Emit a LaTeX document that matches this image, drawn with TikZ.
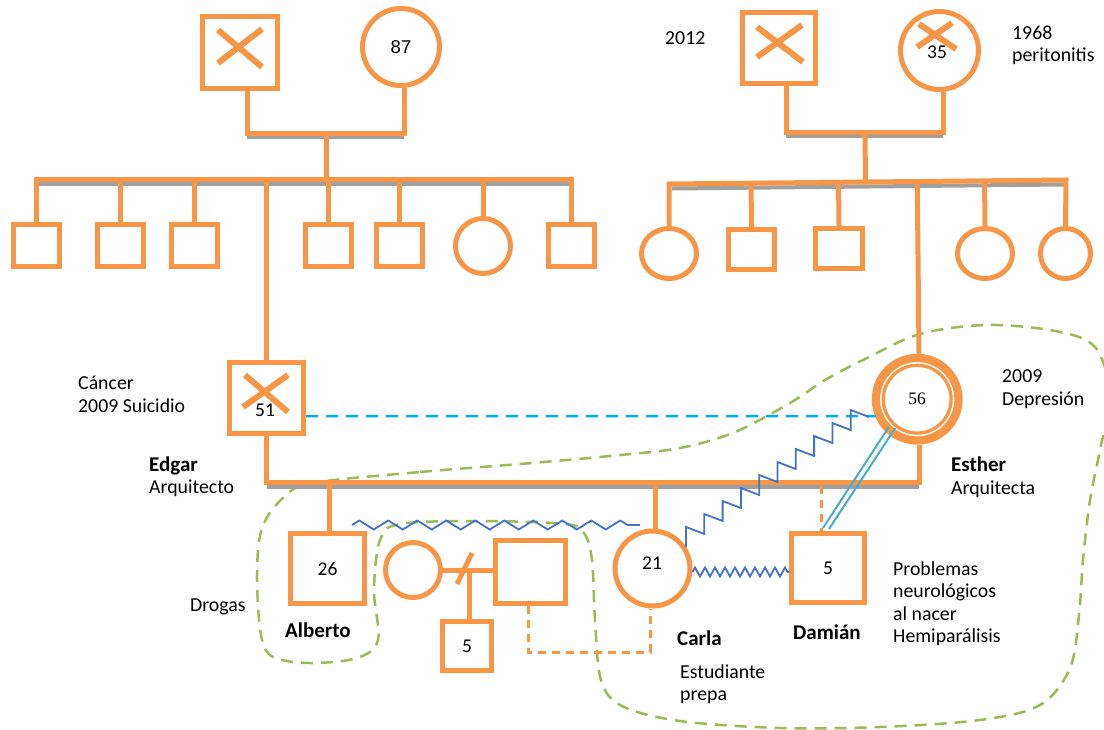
\documentclass[tikz,border=0pt]{standalone}
\usepackage{fontspec}
\setmainfont{Carlito}
\newfontfamily\arialf{Liberation Sans}
\newfontfamily\timesf{Liberation Serif}
\usetikzlibrary{calc,shapes.geometric,decorations.pathmorphing}
\definecolor{gor}{HTML}{F79646}
\definecolor{ggr}{HTML}{A0A0A0}
\definecolor{gbl}{HTML}{4472C4}
\definecolor{gsky}{HTML}{00B0F0}
\definecolor{gteal}{HTML}{4BACC6}
\definecolor{ggreen}{HTML}{9BBB59}
\begin{document}
\begin{tikzpicture}[x=1pt,y=-1pt,
  ol/.style={draw=gor,line width=5pt,line join=miter},
  shd/.style={draw=ggr,line width=4pt},
  sqn/.style={rectangle,draw=gor,line width=5pt,fill=white,inner sep=0pt},
  cin/.style={circle,draw=gor,line width=5pt,fill=white,inner sep=0pt},
  eln/.style={ellipse,draw=gor,line width=5pt,fill=white,inner sep=0pt},
  crs/.style={draw=gor,line width=6pt},
  dor/.style={draw=gor,line width=3pt,dash pattern=on 8pt off 6pt},
  gloop/.style={draw=ggreen,line width=2.5pt,dash pattern=on 12pt off 8pt},
  zz/.style={draw=gbl,line width=1.8pt},
  lbl/.style={font=\fontsize{19.8}{22.5}\selectfont,anchor=west,align=left,inner sep=0pt},
  blbl/.style={lbl,font=\fontsize{21}{22.5}\selectfont\bfseries},
  numt/.style={font=\fontsize{19.5}{20}\selectfont,inner sep=0pt},
]
\useasboundingbox (0,0) rectangle (1104,729);
\clip (0,0) rectangle (1104,729);

% green enclosure
\draw[gloop] plot[smooth cycle, tension=0.55] coordinates {
 (313,483) (420,472) (520,464) (610,456) (680,448) (735,432) (790,403)
 (825,380) (865,359) (920,334) (987,325) (1055,331) (1095,347) (1110,395)
 (1100,450) (1090,500) (1083,560) (1079,615) (1070,668) (1040,705)
 (980,720) (880,727) (780,728) (680,721) (622,706) (601,680) (595,620)
 (592,560) (584,533) (565,524) (480,521) (400,524) (380,540) (374,590)
 (378,640) (357,658) (310,663) (273,657) (261,635) (257,575) (262,528)
 (283,498)};

% nodes
\node[sqn,minimum width=75pt,minimum height=72pt] (gf) at (240,52.5) {};
\node[cin,minimum size=77pt,font=\arialf\fontsize{18.5}{20}\selectfont] (gm) at (401,47) {87};
\node[sqn,minimum width=73pt,minimum height=71pt] (rgf) at (779,48) {};
\node[cin,minimum size=78pt] (rgm) at (939.5,50.5) {};
\foreach \n/\x in {l1/36,l2/120.5,l3/194,l4/328,l5/399,l7/571}
  \node[sqn,minimum width=46pt,minimum height=42pt] (\n) at (\x,245) {};
\node[cin,minimum size=55pt] (l6) at (483,246) {};
\node[eln,minimum width=55pt,minimum height=50pt] (r1) at (669,253.5) {};
\node[sqn,minimum width=46pt,minimum height=40pt] (r2) at (751.5,249.5) {};
\node[sqn,minimum width=47pt,minimum height=40pt] (r3) at (839,248.5) {};
\node[eln,minimum width=55pt,minimum height=50pt] (r4) at (985,253.5) {};
\node[eln,minimum width=50pt,minimum height=50pt] (r5) at (1065.5,253.5) {};
\node[sqn,minimum width=74pt,minimum height=71pt] (edgar) at (266.5,398) {};
\node[circle,draw=gor,line width=8.3pt,fill=white,inner sep=0pt,minimum size=82.6pt] (esther) at (917.2,399.2) {};
\node[circle,draw=gor,line width=3.3pt,inner sep=0pt,minimum size=67.8pt,font=\timesf\fontsize{17.5}{18}\selectfont] (estherin) at (esther.center) {56};
\node[sqn,minimum width=74pt,minimum height=70pt,numt] (alberto) at (327.5,568.5) {26};
\node[cin,minimum size=55pt] (pw) at (413,570) {};
\node[sqn,minimum width=70pt,minimum height=63pt] (pm) at (530.5,572) {};
\node[sqn,minimum width=49pt,minimum height=49pt,numt] (ac) at (467,646) {5};
\node[cin,minimum size=75pt] (carla) at (652.5,568.5) {};
\node[sqn,minimum width=73pt,minimum height=69pt,numt] (damian) at (828,568) {5};

% top left couple
\coordinate (ca) at (247,133); \coordinate (cb) at (404,133); \coordinate (cm1) at (326,133);
\draw[shd] ($(ca)+(0,4)$) -- ($(cb)+(0,4)$);
\draw[ol] (ca |- gf.south) -- (ca) -- (cb) -- (cb |- gm.south);
\coordinate (sl) at (36,179); \coordinate (sr) at (571,179);
\draw[shd] ($(sl)+(2,4.5)$) -- ($(sr)+(-2,4.5)$);
\draw[ol] (l1.north) -- (l1.north |- sl) -- (l7.north |- sl) -- (l7.north);
\draw[ol] (cm1) -- (cm1 |- sl);
\foreach \n in {l2,l3,l4,l5,l6} \draw[ol] (\n.north |- sl) -- (\n.north);
\draw[ol] (edgar.north |- sl) -- (edgar.north);

% top right couple
\coordinate (ra) at (786,132); \coordinate (rb) at (943,132); \coordinate (rm) at (865,132);
\draw[shd] ($(ra)+(0,4)$) -- ($(rb)+(0,4)$);
\draw[ol] (ra |- rgf.south) -- (ra) -- (rb) -- (rb |- rgm.south);
\coordinate (rsl) at (669,184); \coordinate (rsr) at (1066,180);
\draw[shd] ($(rsl)+(3,4.5)$) -- ($(rsr)+(-2,4.5)$);
\draw[ol] (r1.north) -- (rsl) -- (rsr) -- (r5.north);
\draw[ol] (rm) -- ($(rsl)!(rm)!(rsr)$);
\foreach \n in {r2,r3,r4} \draw[ol] ($(rsl)!(\n.north)!(rsr)$) -- (\n.north);
\draw[ol] ($(rsl)!($(esther.north)+(1.8,0)$)!(rsr)$) -- ($(esther.north)+(1.8,0)$);

% marriage Edgar - Esther
\coordinate (ml) at (266,482);
\draw[shd] ($(edgar.south |- ml)+(0,4.5)$) -- ($(esther.south |- ml)+(2,4.5)$);
\draw[ol] (edgar.south) -- (edgar.south |- ml) -- ($(esther.south |- ml)+(2,0)$) -- ($(esther.south)+(2,0)$);
\draw[ol] ($(alberto.north |- ml)+(1.5,0)$) -- ($(alberto.north)+(1.5,0)$);
\draw[ol] ($(carla.north |- ml)+(2.5,0)$) -- ($(carla.north)+(2.5,0)$);
\draw[dor] ($(damian.north |- ml)+(-7,4)$) -- ($(damian.north)+(-7,0)$);

% Alberto's partner family
\draw[ol] (pw.east) -- (pw.east -| pm.west);
\draw[ol] (472,553) -- (457,584);
\coordinate (pc) at (469,570);
\draw[ol] (pc) -- (pc |- ac.north);
\coordinate (dj) at (650,652);
\draw[dor] ($(pm.south)+(-2.5,0)$) |- (dj) -- (dj |- carla.south);

% relations
\draw[draw=gsky,line width=2.5pt,dash pattern=on 12pt off 8pt] ($(edgar.east)+(0,18)$) -- ($(esther.west)+(4,17)$);
\draw[zz] ($(carla.center)+(33.5,-21.5)$) \foreach \i in {1,...,10} { -- ++(0,-20) -- ++(18.3,7) };
\coordinate (zA) at (352,525); \coordinate (zB) at (640,525);
\draw[zz,decorate,decoration={zigzag,segment length=29pt,amplitude=4.5pt}] (zA) -- (zB);
\draw[zz,decorate,decoration={zigzag,segment length=10pt,amplitude=4.5pt}] ($(carla.east)+(0,3.5)$) -- ($(damian.west)+(0,4)$);
\draw[gteal,line width=2pt] ($(damian.north)+(-5,-3)$) -- ($(esther.center)+(-28.5,28)$);
\draw[gteal,line width=2pt] ($(damian.north)+(1,-2)$) -- ($(esther.center)+(-22,29)$);

% crosses (deceased)
\draw[crs] (218,30) -- (262,67) (262,29) -- (218,63);
\draw[crs] (757,27) -- (803,62) (802,25) -- (757,57);
\draw[crs] (919,24) -- (956,49) (952,23) -- (917,47);
\draw[crs] (245,375) -- (288,412) (288,375) -- (243,407);

% numbers
\node[numt] (n35) at (937,52) {35};
\node[numt] (n51) at (265,410) {51};
\node[numt] (n21) at (652,563) {21};

% labels
\node[lbl] (t2012) at (665,38) {2012};
\node[lbl] (t1968) at (1012,45.5) {1968\\peritonitis};
\node[lbl] (tcancer) at (78,394.5) {Cáncer\\2009 Suicidio};
\node[lbl] (tedgar) at (149,476.5) {{\fontsize{21}{22.5}\selectfont\bfseries Edgar}\\Arquitecto};
\node[lbl] (tdep) at (1002,389) {2009\\Depresión};
\node[lbl] (testher) at (951,477) {{\fontsize{21}{22.5}\selectfont\bfseries Esther}\\Arquitecta};
\node[lbl] (tdrogas) at (190,607) {Drogas};
\node[blbl] (talberto) at (285,630) {Alberto};
\node[blbl] (tcarla) at (677,638) {Carla};
\node[lbl] (testud) at (680,684) {Estudiante\\prepa};
\node[blbl] (tdamian) at (793,632) {Damián};
\node[lbl] (tprob) at (893,603.5) {Problemas\\neurológicos\\al nacer\\Hemiparálisis};
\end{tikzpicture}
\end{document}
